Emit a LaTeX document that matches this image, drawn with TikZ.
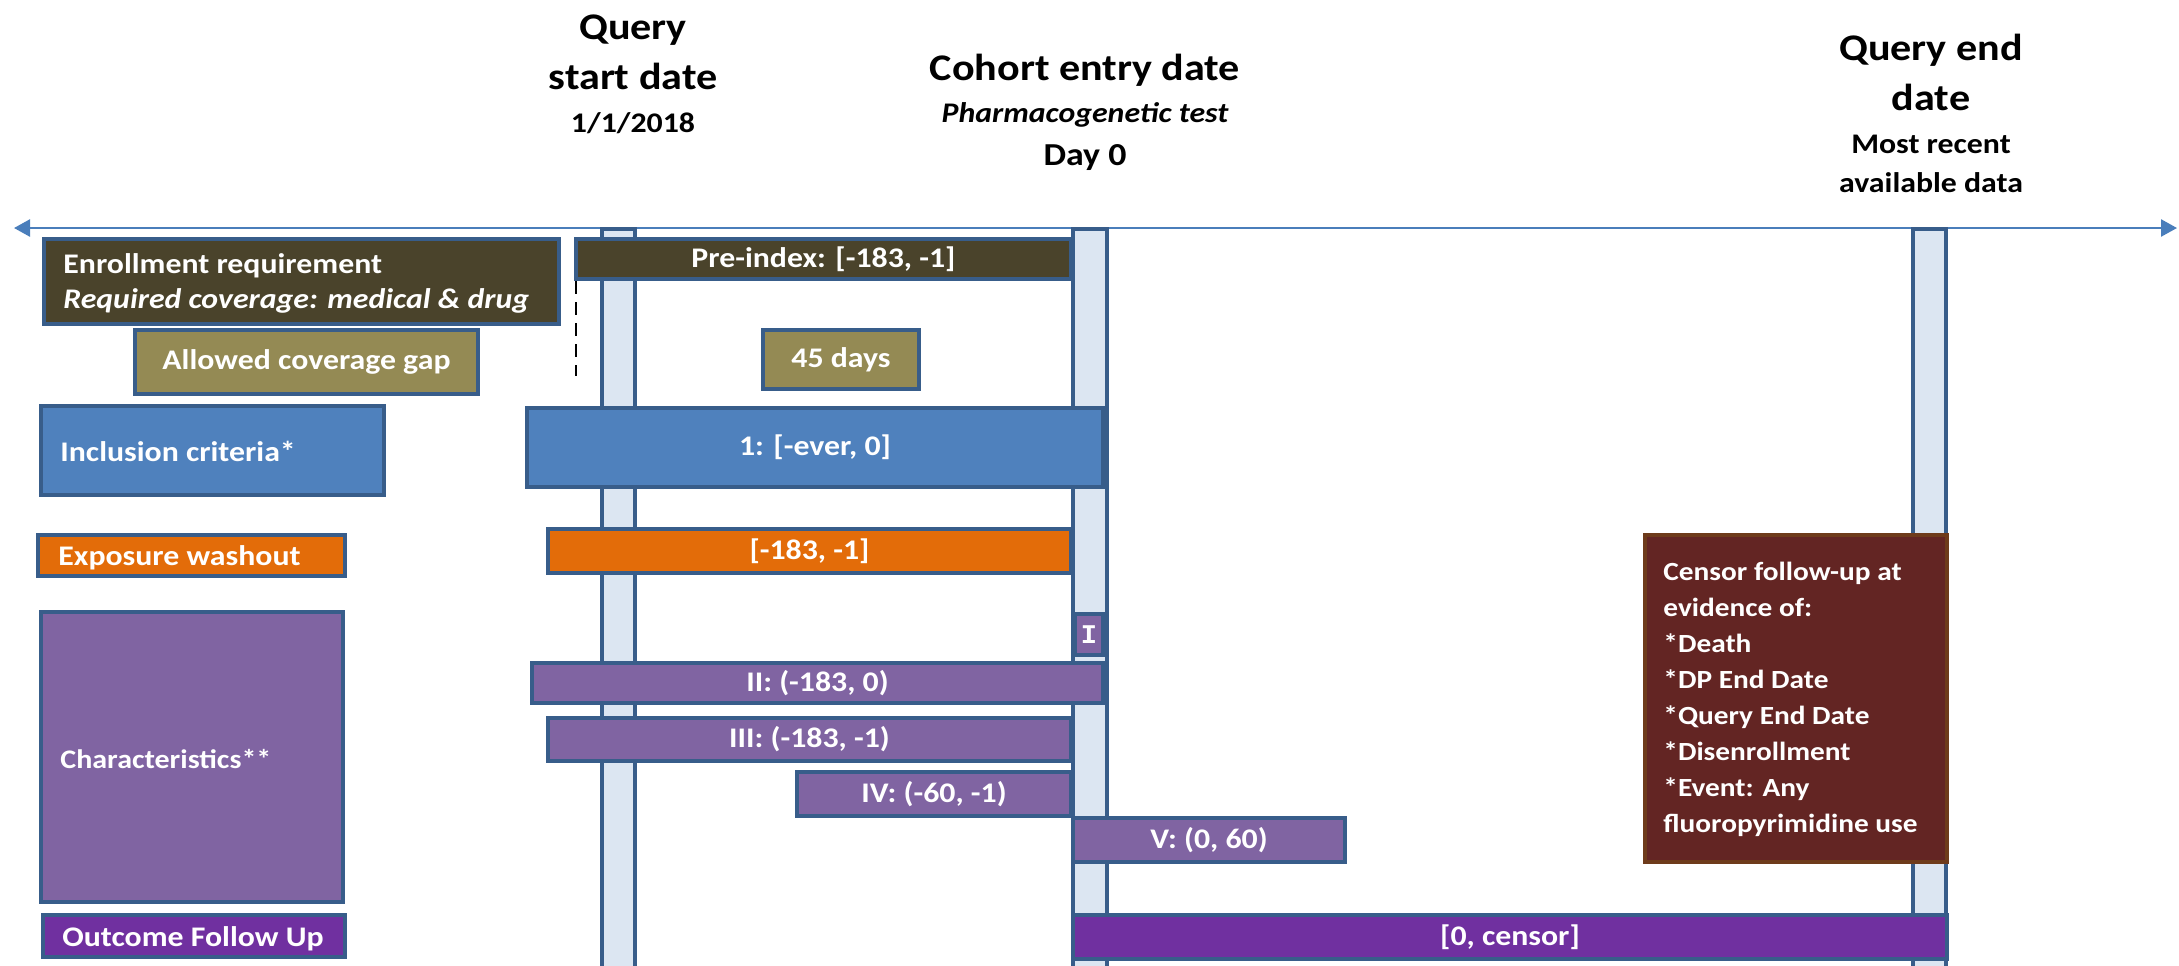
\documentclass[tikz,border=0pt]{standalone}
\usepackage{fontspec}
\setmainfont{Carlito}[FakeStretch=1.12]
\newfontfamily\monof{Liberation Mono}
\usetikzlibrary{arrows.meta}
\definecolor{bord}{HTML}{385D8A}
\definecolor{barfill}{HTML}{DCE6F2}
\definecolor{enr}{HTML}{4A432B}
\definecolor{gapc}{HTML}{948A54}
\definecolor{incl}{HTML}{4F81BD}
\definecolor{expo}{HTML}{E36C09}
\definecolor{charc}{HTML}{8064A2}
\definecolor{outc}{HTML}{7030A0}
\definecolor{cens}{HTML}{632523}
\definecolor{censbord}{HTML}{6E3B1B}
\definecolor{axisc}{HTML}{4A7EBB}
\tikzset{
 bx/.style={draw=bord, line width=2pt, inner sep=0pt, text=white, font=\fontsize{14.2}{17.5}\selectfont\bfseries},
 barv/.style={draw=bord, fill=barfill, line width=2pt, inner sep=0pt},
 lt/.style={inner sep=0pt, text=white, font=\fontsize{14.2}{17.5}\selectfont\bfseries, align=left},
 ttl/.style={anchor=base, inner sep=0pt, font=\fontsize{18.8}{22}\selectfont\bfseries},
 sub/.style={anchor=base, inner sep=0pt, font=\fontsize{14.2}{17}\selectfont\bfseries},
 axisline/.style={draw=axisc, line width=1.2pt, {Triangle[length=8pt,width=8.5pt]}-{Triangle[length=8pt,width=8.5pt]}},
 dashln/.style={draw=black, line width=1pt, dash pattern=on 6.5pt off 4pt},
}
\newcommand\rbox[7]{\node[#6, minimum width={(#4-#2)*0.5pt-2pt}, minimum height={(#5-#3)*0.5pt-2pt}] (#1) at ({(#2+#4)/2},{(#3+#5)/2}) {#7};}
\begin{document}
\begin{tikzpicture}[x=0.5pt,y=-0.5pt]
\useasboundingbox (0,0) rectangle (2179,965);
% axis
\coordinate (axL) at (14,228);
\coordinate (axR) at (2177,228);
\draw[axisline] (axL) -- (axR);
% vertical bars
\rbox{qsbar}{600}{227}{637}{995}{barv}{}
\rbox{cebar}{1071}{227}{1109}{995}{barv}{}
\rbox{qebar}{1911}{227}{1948}{995}{barv}{}
% titles
\node[ttl] (qs1) at (633,39) {Query};
\node[ttl] (qs2) at (633,89) {start date};
\node[sub] (qs3) at (633,132) {1/1/2018};
\node[ttl] (ce1) at (1085,80) {Cohort entry date};
\node[sub, font=\fontsize{14.2}{17}\selectfont\bfseries\itshape] (ce2) at (1085,122) {Pharmacogenetic test};
\node[ttl, font=\fontsize{16}{19}\selectfont\bfseries] (ce3) at (1085,165) {Day 0};
\node[ttl] (qe1) at (1931,60) {Query end};
\node[ttl] (qe2) at (1931,110) {date};
\node[sub] (qe3) at (1931,153) {Most recent};
\node[sub] (qe4) at (1931,192) {available data};
% enrollment
\rbox{enr1}{42}{237}{561}{326}{bx, fill=enr}{}
\node[lt, anchor=west] (enr1t) at (63,283) {Enrollment requirement\\\textit{Required coverage: medical \& drug}};
\rbox{pre}{574}{237}{1073}{281}{bx, fill=enr}{Pre-index: [-183, -1]}
\coordinate (dashend) at (576,376);
\draw[dashln] ([xshift=1pt]pre.south west) -- (dashend);
% gap
\rbox{gap1}{133}{328}{480}{396}{bx, fill=gapc}{Allowed coverage gap}
\rbox{gap2}{761}{328}{921}{391}{bx, fill=gapc}{45 days}
% inclusion
\rbox{incl1}{39}{404}{386}{497}{bx, fill=incl}{}
\node[lt, anchor=base west] (incl1t) at (60,461) {Inclusion criteria*};
\rbox{incl2}{525}{406}{1105}{489}{bx, fill=incl}{1: [-ever, 0]}
% exposure
\rbox{exp1}{36}{533}{347}{578}{bx, fill=expo}{}
\node[lt, anchor=base west] (exp1t) at (58,565) {Exposure washout};
\rbox{exp2}{546}{527}{1073}{575}{bx, fill=expo}{[-183, -1]}
% characteristics
\rbox{ch0}{39}{610}{345}{904}{bx, fill=charc}{}
\node[lt, anchor=base west, font=\fontsize{13.4}{16}\selectfont\bfseries] (ch0t) at (60,768) {Characteristics**};
\rbox{ch1}{1073}{612}{1105}{657}{bx, fill=charc, font=\fontsize{13.5}{16}\monof\bfseries}{I}
\rbox{ch2}{530}{661}{1105}{705}{bx, fill=charc}{II: (-183, 0)}
\rbox{ch3}{546}{716}{1073}{763}{bx, fill=charc}{III: (-183, -1)}
\rbox{ch4}{795}{770}{1073}{818}{bx, fill=charc}{IV: (-60, -1)}
\rbox{ch5}{1071}{816}{1347}{864}{bx, fill=charc}{V: (0, 60)}
% censor
\rbox{cens1}{1643}{533}{1949}{864}{bx, fill=cens, draw=censbord}{}
\node[lt, anchor=west, font=\fontsize{13.1}{18}\selectfont\bfseries] (cens1t) at (1663,699) {Censor follow-up at\\evidence of:\\*Death\\*DP End Date\\*Query End Date\\*Disenrollment\\*Event: Any\\fluoropyrimidine use};
% outcome
\rbox{out1}{41}{913}{347}{959}{bx, fill=outc}{}
\node[lt, anchor=base west] (out1t) at (62,946) {Outcome Follow Up};
\rbox{out2}{1071}{913}{1949}{961}{bx, fill=outc}{[0, censor]}
\end{tikzpicture}
\end{document}
